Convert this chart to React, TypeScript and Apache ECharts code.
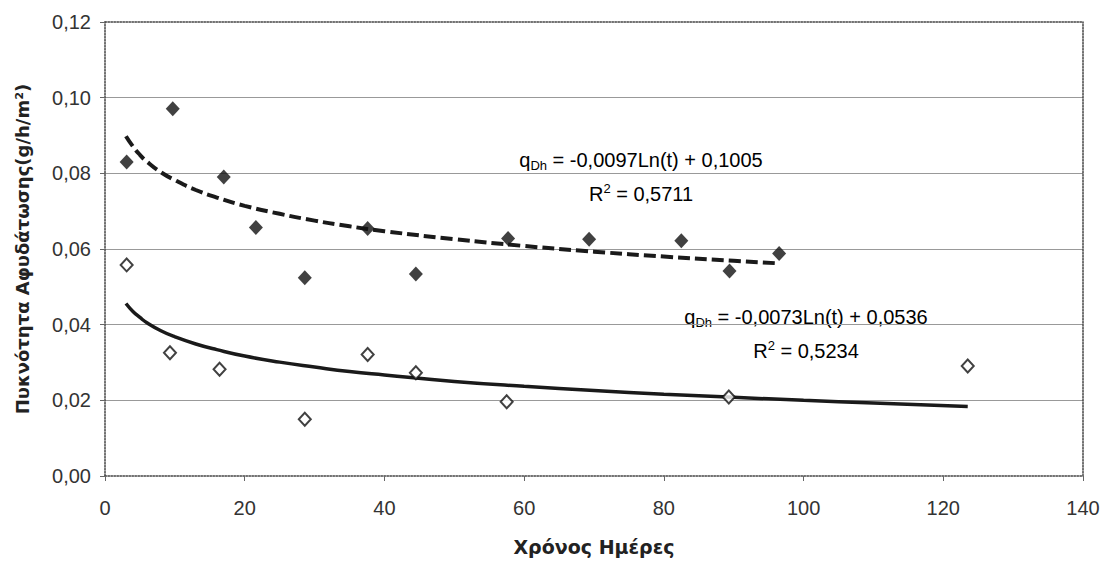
import React, { useEffect, useRef } from "react";
import * as echarts from "echarts";

// Measured points: filled diamonds (series A) and open diamonds (series B)
const filledX = [3.1, 9.7, 17, 21.6, 28.6, 37.6, 44.5, 57.7, 69.3, 82.5, 89.4, 96.5];
const filledY = [0.083, 0.0971, 0.079, 0.0657, 0.0524, 0.0654, 0.0534, 0.0628, 0.0626, 0.0622, 0.0542, 0.0588];

const openX = [3.1, 9.3, 16.4, 28.6, 37.6, 44.5, 57.5, 89.3, 123.5];
const openY = [0.0558, 0.0326, 0.0282, 0.015, 0.0321, 0.0273, 0.0196, 0.0209, 0.0291];

// Trend curves
const trendAX = [3, 4, 5, 6, 8, 10, 13, 16, 20, 25, 30, 35, 40, 50, 60, 70, 80, 90, 96.5];
const trendAY = [0.0898, 0.0871, 0.0849, 0.0831, 0.0803, 0.0782, 0.0756, 0.0736, 0.0714, 0.0693, 0.0675, 0.066, 0.0647, 0.0626, 0.0608, 0.0593, 0.058, 0.0569, 0.0562];

const trendBX = [3, 4, 5, 6, 8, 10, 13, 16, 20, 25, 30, 35, 40, 50, 60, 70, 80, 90, 100, 110, 123.5];
const trendBY = [0.0456, 0.0435, 0.0419, 0.0405, 0.0384, 0.0368, 0.0349, 0.0334, 0.0317, 0.0301, 0.0288, 0.0276, 0.0267, 0.025, 0.0237, 0.0226, 0.0216, 0.0208, 0.02, 0.0193, 0.0184];

const xTicks = { min: 0, max: 140, interval: 20 };
const yTicks = { min: 0, max: 0.12, interval: 0.02 };

const eqA = ["-0,0097Ln(t) + 0,1005", "0,5711"];
const eqB = ["-0,0073Ln(t) + 0,0536", "0,5234"];

const xName = "Χρόνος Ημέρες";
const yName = "Πυκνότητα Αφυδάτωσης(g/h/m²)";

const zip = (xs: number[], ys: number[]) => xs.map((x, i) => [x, ys[i]]);

const labelFont = "Liberation Sans, Arial, sans-serif";
const nameFont = "DejaVu Sans, Verdana, sans-serif";

const rich = {
  n: { fontSize: 20, fontFamily: labelFont, color: "#333", lineHeight: 24 },
  sub: { fontSize: 13, fontFamily: labelFont, color: "#333", lineHeight: 15, verticalAlign: "bottom" },
  sup: { fontSize: 13, fontFamily: labelFont, color: "#333", lineHeight: 15, verticalAlign: "top" },
};

function eqText(x: number, y: number, e: string[]) {
  return [
    {
      type: "text",
      x,
      y,
      style: {
        text: `{n|q}{sub|Dh}{n| = ${e[0]}}`,
        rich,
        align: "center",
        verticalAlign: "middle",
      },
    },
    {
      type: "text",
      x,
      y: y + 34,
      style: {
        text: `{n|R}{sup|2}{n| = ${e[1]}}`,
        rich,
        align: "center",
        verticalAlign: "middle",
      },
    },
  ];
}

export default function App() {
  const ref = useRef<HTMLDivElement>(null);
  useEffect(() => {
    if (!ref.current) return;
    const chart = echarts.init(ref.current, null, { renderer: "svg" });
    const dotted = { color: "#444", width: 1.5, type: "dotted" as const };
    chart.setOption({
      animation: false,
      backgroundColor: "#fff",
      grid: { left: 105, top: 22, right: 25, bottom: 87 },
      xAxis: [
        {
          type: "value",
          ...xTicks,
          axisLine: { show: true, onZero: false, lineStyle: dotted },
          axisTick: { show: true, length: 5, lineStyle: { color: "#666" } },
          axisLabel: { fontSize: 20, fontFamily: labelFont, color: "#333", margin: 22 },
          splitLine: { show: false },
          name: xName,
          nameLocation: "middle",
          nameGap: 61,
          nameTextStyle: { fontSize: 19, fontWeight: "bold", fontFamily: nameFont, color: "#222" },
        },
        {
          type: "value",
          position: "top",
          ...xTicks,
          axisLine: { show: true, onZero: false, lineStyle: dotted },
          axisTick: { show: false },
          axisLabel: { show: false },
          splitLine: { show: false },
        },
      ],
      yAxis: [
        {
          type: "value",
          ...yTicks,
          axisLine: { show: true, onZero: false, lineStyle: dotted },
          axisTick: { show: true, length: 5, lineStyle: { color: "#666" } },
          axisLabel: {
            fontSize: 20,
            fontFamily: labelFont,
            color: "#333",
            margin: 14,
            formatter: (v: number) => v.toFixed(2).replace(".", ","),
          },
          splitLine: { show: true, showMinLine: false, showMaxLine: false, lineStyle: { color: "#999", width: 1 } },
          name: yName,
          nameLocation: "middle",
          nameGap: 74,
          nameTextStyle: { fontSize: 18, fontWeight: "bold", fontFamily: nameFont, color: "#222" },
        },
        {
          type: "value",
          position: "right",
          ...yTicks,
          axisLine: { show: true, onZero: false, lineStyle: dotted },
          axisTick: { show: false },
          axisLabel: { show: false },
          splitLine: { show: false },
        },
      ],
      series: [
        {
          type: "line",
          data: zip(trendAX, trendAY),
          smooth: true,
          showSymbol: false,
          lineStyle: { color: "#1a1a1a", width: 4, type: [12, 5] },
          z: 2,
        },
        {
          type: "line",
          data: zip(trendBX, trendBY),
          smooth: true,
          showSymbol: false,
          lineStyle: { color: "#1a1a1a", width: 3.5 },
          z: 2,
        },
        {
          type: "scatter",
          data: zip(filledX, filledY),
          symbol: "diamond",
          symbolSize: [14, 15],
          itemStyle: { color: "#111" },
          z: 3,
        },
        {
          type: "scatter",
          data: zip(openX, openY),
          symbol: "diamond",
          symbolSize: [12, 13],
          itemStyle: { color: "#fff", borderColor: "#111", borderWidth: 2 },
          z: 3,
        },
      ],
      graphic: [...eqText(641, 160, eqA), ...eqText(806, 317, eqB)],
    });
    return () => chart.dispose();
  }, []);
  return (
    <div
      ref={ref}
      style={{ position: "fixed", left: 0, top: 0, width: 1108, height: 563, background: "#fff" }}
    />
  );
}
